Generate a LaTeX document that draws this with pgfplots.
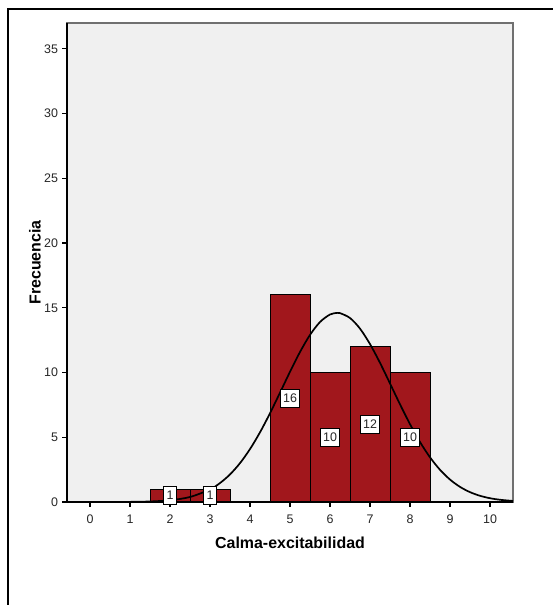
\documentclass[border=0pt]{standalone}
\usepackage{fontspec}
\setmainfont{Liberation Sans}
\usepackage{pgfplots}
\pgfplotsset{compat=1.18}
\definecolor{bg}{HTML}{F0F0F0}
\definecolor{barred}{HTML}{A1171C}
\definecolor{frame}{HTML}{707070}
\begin{document}
\begin{tikzpicture}
\path[use as bounding box] (0bp,0bp) rectangle (553bp,605bp);
\draw[line width=2bp] (7.5bp,-5bp) -- (7.5bp,596bp) -- (560bp,596bp);
\begin{axis}[
  at={(67bp,103bp)}, anchor=south west,
  scale only axis, width=446bp, height=479bp,
  xmin=-0.575, xmax=10.575, ymin=0, ymax=37,
  xtick={0,1,...,10}, ytick={0,5,...,35},
  tick align=outside, xtick pos=bottom, ytick pos=left,
  major tick length=5bp,
  every tick/.style={black, line width=1.2bp},
  axis line style={draw=frame, line width=1.5bp},
  axis background/.style={fill=bg},
  /pgf/number format/assume math mode=true,
  ticklabel style={font=\fontsize{12.5}{14}\selectfont, text=black!85},
  xticklabel style={yshift=-4bp},
  yticklabel style={xshift=-0.5bp},
  xlabel={Calma-excitabilidad}, ylabel={Frecuencia},
  every axis x label/.style={at={([yshift=-41bp]axis description cs:0.5,0)}, anchor=center, font=\fontsize{16}{18}\selectfont\bfseries},
  every axis y label/.style={at={([xshift=-32bp]axis description cs:0,0.5)}, rotate=90, anchor=center, font=\fontsize{16}{18}\selectfont\bfseries},
  clip=false,
]
\addplot[ybar interval, fill=barred, draw=black, line width=0.9bp] coordinates {(1.5,1) (2.5,1) (3.5,1)};
\addplot[ybar interval, fill=barred, draw=black, line width=0.9bp] coordinates {(4.5,16) (5.5,10) (6.5,12) (7.5,10) (8.5,10)};
\addplot[smooth, black, line width=1.7bp] coordinates {
(-0.575,0.0001) (0,0.0005) (0.5,0.0026) (1,0.011) (1.5,0.041) (2,0.135) (2.5,0.387) (3,0.971)
(3.25,1.463) (3.5,2.130) (3.75,3.001) (4,4.087) (4.25,5.383) (4.5,6.855) (4.75,8.445)
(5,10.058) (5.25,11.587) (5.5,12.907) (5.75,13.903) (6,14.483) (6.18,14.61) (6.25,14.59)
(6.5,14.214) (6.75,13.392) (7,12.199) (7.25,10.749) (7.5,9.158) (7.75,7.545) (8,6.012)
(8.25,4.632) (8.5,3.451) (8.75,2.487) (9,1.733) (9.25,1.168) (9.5,0.761) (9.75,0.479)
(10,0.292) (10.25,0.172) (10.575,0.082)};
\addplot[draw=none, mark=none, nodes near coords, point meta=explicit symbolic,
  every node near coord/.style={anchor=center, fill=white, draw=black, line width=0.7bp,
    inner xsep=2.3bp, inner ysep=0bp, minimum height=17.5bp, minimum width=12.5bp,
    font=\fontsize{12.5}{14}\selectfont, text=black!85}]
  coordinates {(2,0.5)[1] (3,0.5)[1] (5,8)[16] (6,5)[10] (7,6)[12] (8,5)[10]};
\draw[black, line width=1.5bp] (rel axis cs:0,1) -- (rel axis cs:0,0) -- (rel axis cs:1,0);
\end{axis}
\end{tikzpicture}
\end{document}
